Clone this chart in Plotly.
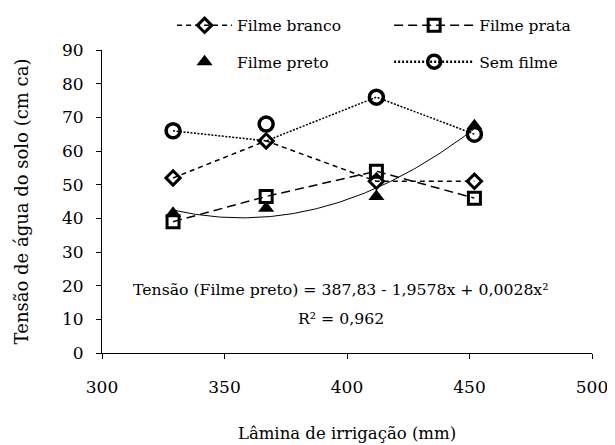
import numpy as np
import plotly.graph_objects as go

# Data
laminas = [329, 367, 412, 452]
filme_branco = [52, 63, 51, 51]
filme_prata = [39, 46.5, 54, 46]
filme_preto = [41.5, 43, 46.5, 67.5]
sem_filme = [66, 68, 76, 65]
# dotted line of "Sem filme" as drawn in the figure (passes through 63 at 367)
sem_filme_linha = [66, 63, 76, 65]

x_ticks = [300, 350, 400, 450, 500]
y_ticks = [0, 10, 20, 30, 40, 50, 60, 70, 80, 90]

FONT = "DejaVu Serif"

coef = np.polyfit(laminas, filme_preto, 2)
xt = np.linspace(min(laminas), max(laminas), 120)
yt = np.polyval(coef, xt)

fig = go.Figure()

fig.add_trace(go.Scatter(x=xt, y=yt, mode="lines", line=dict(color="black", width=1),
                         showlegend=False, hoverinfo="skip"))
fig.add_trace(go.Scatter(x=laminas, y=sem_filme_linha, mode="lines",
                         line=dict(color="black", width=1.5, dash="2px,1.5px"),
                         showlegend=False, hoverinfo="skip"))
fig.add_trace(go.Scatter(x=laminas, y=filme_branco, mode="lines+markers", name="Filme branco",
                         line=dict(color="black", width=1.5, dash="5px,4px"),
                         marker=dict(symbol="diamond-open", size=11, color="black", line=dict(width=3)),
                         legend="legend"))
fig.add_trace(go.Scatter(x=laminas, y=filme_prata, mode="lines+markers", name="Filme prata",
                         line=dict(color="black", width=1.5, dash="9px,5px"),
                         marker=dict(symbol="square-open", size=12, color="black", line=dict(width=3)),
                         legend="legend3"))
fig.add_trace(go.Scatter(x=laminas, y=filme_preto, mode="markers", name="Filme preto",
                         marker=dict(symbol="triangle-up", size=14, color="black"),
                         legend="legend2"))
fig.add_trace(go.Scatter(x=laminas, y=sem_filme, mode="markers", name="Sem filme",
                         marker=dict(symbol="circle-open", size=14, color="black", line=dict(width=3.5)),
                         showlegend=False))
fig.add_trace(go.Scatter(x=[None], y=[None], mode="lines+markers", name="Sem filme",
                         line=dict(color="black", width=2.5, dash="2px,2px"),
                         marker=dict(symbol="circle-open", size=13, color="black", line=dict(width=3.5)),
                         legend="legend4"))

leg_common = dict(font=dict(family=FONT, size=15.5, color="black"), bgcolor="rgba(0,0,0,0)",
                  xanchor="left", yanchor="middle", orientation="h")

fig.update_layout(
    width=615, height=445,
    margin=dict(l=94, r=31, t=42, b=100, autoexpand=False),
    plot_bgcolor="white", paper_bgcolor="white",
    font=dict(family=FONT, size=16, color="black"),
    legend=dict(x=0.143, y=1.080, itemwidth=55, **leg_common),
    legend2=dict(x=0.143, y=0.96, itemwidth=55, **leg_common),
    legend3=dict(x=0.586, y=1.080, itemwidth=80, **leg_common),
    legend4=dict(x=0.586, y=0.96, itemwidth=80, **leg_common),
    xaxis=dict(range=[300, 500], tickvals=x_ticks, showline=True, linecolor="black", linewidth=1,
               ticks="outside", ticklen=5, tickcolor="black", showgrid=False, zeroline=False,
               tickfont=dict(family=FONT, size=17, color="black"), ticklabelstandoff=14,
               title=dict(text="Lâmina de irrigação (mm)", font=dict(family=FONT, size=16.5, color="black"), standoff=31)),
    yaxis=dict(range=[0, 90], tickvals=y_ticks, showline=True, linecolor="black", linewidth=1,
               ticks="outside", ticklen=5, tickcolor="black", showgrid=False, zeroline=False,
               tickfont=dict(family=FONT, size=17, color="black"), ticklabelstandoff=9,
               title=dict(text="Tensão de água do solo (cm ca)", font=dict(family=FONT, size=18, color="black"), standoff=28)),
)

fig.add_annotation(x=0.487, y=0.208, xref="paper", yref="paper", showarrow=False,
                   text="Tensão (Filme preto) = 387,83 - 1,9578x + 0,0028x²",
                   font=dict(family=FONT, size=15.7, color="black"), xanchor="center", yanchor="middle")
fig.add_annotation(x=0.487, y=0.115, xref="paper", yref="paper", showarrow=False,
                   text="R² = 0,962",
                   font=dict(family=FONT, size=15.7, color="black"), xanchor="center", yanchor="middle")

fig.write_html("out.html")
